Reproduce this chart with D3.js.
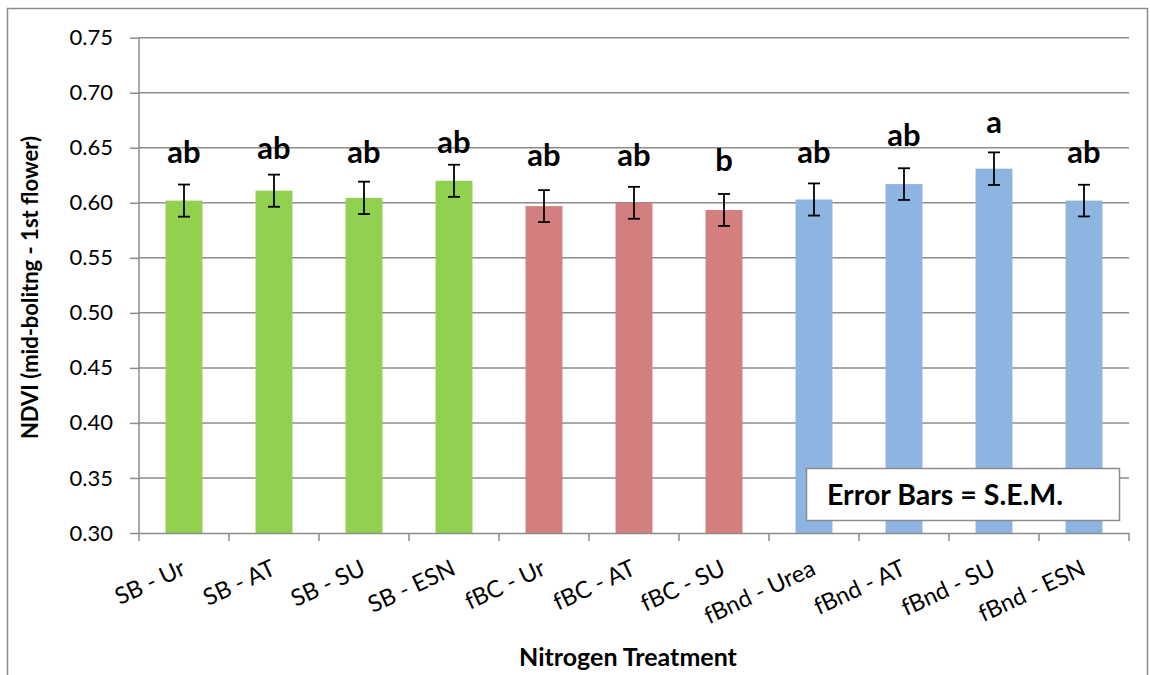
<!DOCTYPE html>
<html>
<head>
<meta charset="utf-8">
<script src="https://cdn.jsdelivr.net/npm/d3@7"></script>
<style>
  body { margin: 0; background: #fff; }
  text { font-family: Lato, "Open Sans", sans-serif; }
</style>
</head>
<body>
<div id="chart"></div>
<script>
// data
var categories = ["SB - Ur", "SB - AT", "SB - SU", "SB - ESN", "fBC - Ur", "fBC - AT", "fBC - SU",
                  "fBnd - Urea", "fBnd - AT", "fBnd - SU", "fBnd - ESN"];
var groups = ["SB", "SB", "SB", "SB", "fBC", "fBC", "fBC", "fBnd", "fBnd", "fBnd", "fBnd"];
var means = [0.602, 0.611, 0.6045, 0.620, 0.597, 0.600, 0.5935, 0.603, 0.617, 0.631, 0.602];
var sems = [0.0146, 0.0146, 0.0147, 0.0146, 0.0145, 0.0145, 0.0145, 0.0146, 0.0144, 0.0148, 0.0144];
var letters = ["ab", "ab", "ab", "ab", "ab", "ab", "b", "ab", "ab", "a", "ab"];
var letterAt = [0.6364, 0.640, 0.6364, 0.6455, 0.633, 0.633, 0.6285, 0.6366, 0.6512, 0.6636, 0.6361];
var yTicks = [0.30, 0.35, 0.40, 0.45, 0.50, 0.55, 0.60, 0.65, 0.70, 0.75];

var svgWidth = 1150;
var svgHeight = 675;

var margin = { top: 37.7, right: 21, bottom: 142, left: 139 };
var width = svgWidth - margin.left - margin.right;
var height = svgHeight - margin.top - margin.bottom;

var svg = d3.select("#chart")
    .append("svg")
    .attr("width", svgWidth)
    .attr("height", svgHeight);

// outer chart border
svg.append("rect")
    .attr("x", 7.5).attr("y", 8.5)
    .attr("width", 1140).attr("height", 700)
    .attr("fill", "none")
    .attr("stroke", "#8c8c8c")
    .attr("stroke-width", 1.5);

var chartGroup = svg.append("g")
    .attr("transform", `translate(${margin.left}, ${margin.top})`);

var xScale = d3.scaleBand()
    .domain(categories)
    .range([0, width])
    .paddingInner(0.59)
    .paddingOuter(0.295);

var xBand = d3.scaleBand()
    .domain(categories)
    .range([0, width]);

var yScale = d3.scaleLinear()
    .domain([0.30, 0.75])
    .range([height, 0]);

var color = d3.scaleOrdinal()
    .domain(["SB", "fBC", "fBnd"])
    .range(["#92d050", "#d47f7f", "#8eb4e2"]);

// gridlines
chartGroup.append("g")
    .selectAll("line")
    .data(yTicks.slice(1))
    .enter()
    .append("line")
    .attr("x1", 0)
    .attr("x2", width)
    .attr("y1", d => yScale(d))
    .attr("y2", d => yScale(d))
    .attr("stroke", "#8c8c8c")
    .attr("stroke-width", 1.5);

// y axis
var leftAxis = d3.axisLeft(yScale)
    .tickValues(yTicks)
    .tickFormat(d3.format(".2f"))
    .tickSize(9)
    .tickPadding(17);

var yAxisG = chartGroup.append("g").call(leftAxis);
yAxisG.select(".domain").attr("stroke", "#8c8c8c").attr("stroke-width", 1.5)
    .attr("d", `M0,${height}V0`);
yAxisG.selectAll(".tick line").attr("stroke", "#8c8c8c").attr("stroke-width", 1.5);
yAxisG.selectAll(".tick text")
    .attr("font-size", "22px")
    .attr("font-family", "Lato, sans-serif")
    .attr("fill", "#000");

// bars
chartGroup.selectAll(".bar")
    .data(means)
    .enter()
    .append("rect")
    .attr("class", "bar")
    .attr("x", (d, i) => xScale(categories[i]))
    .attr("y", d => yScale(d))
    .attr("width", xScale.bandwidth())
    .attr("height", d => height - yScale(d))
    .attr("fill", (d, i) => color(groups[i]));

// error bars
var errG = chartGroup.selectAll(".err")
    .data(means)
    .enter()
    .append("g")
    .attr("class", "err")
    .attr("transform", (d, i) => `translate(${xScale(categories[i]) + xScale.bandwidth() / 2},0)`);

errG.append("line")
    .attr("x1", 0).attr("x2", 0)
    .attr("y1", (d, i) => yScale(d + sems[i]))
    .attr("y2", (d, i) => yScale(d - sems[i]))
    .attr("stroke", "#000").attr("stroke-width", 1.8);

errG.append("line")
    .attr("x1", -6).attr("x2", 6)
    .attr("y1", (d, i) => yScale(d + sems[i]))
    .attr("y2", (d, i) => yScale(d + sems[i]))
    .attr("stroke", "#000").attr("stroke-width", 1.8);

errG.append("line")
    .attr("x1", -6).attr("x2", 6)
    .attr("y1", (d, i) => yScale(d - sems[i]))
    .attr("y2", (d, i) => yScale(d - sems[i]))
    .attr("stroke", "#000").attr("stroke-width", 1.8);

// significance letters
chartGroup.selectAll(".letter")
    .data(letters)
    .enter()
    .append("text")
    .attr("class", "letter")
    .attr("x", (d, i) => xScale(categories[i]) + xScale.bandwidth() / 2)
    .attr("y", (d, i) => yScale(letterAt[i]))
    .attr("text-anchor", "middle")
    .attr("font-size", "31px")
    .attr("font-weight", "bold")
    .attr("fill", "#000")
    .text(d => d);

// x axis
var bottomAxis = d3.axisBottom(xBand).tickSize(0).tickFormat("");
var xAxisG = chartGroup.append("g")
    .attr("transform", `translate(0, ${height})`)
    .call(bottomAxis);
xAxisG.select(".domain").attr("stroke", "#8c8c8c").attr("stroke-width", 1.5);

// tick marks at band edges
xAxisG.selectAll(".edge")
    .data(d3.range(categories.length + 1))
    .enter()
    .append("line")
    .attr("x1", d => d * xBand.step())
    .attr("x2", d => d * xBand.step())
    .attr("y1", 0)
    .attr("y2", 8)
    .attr("stroke", "#8c8c8c")
    .attr("stroke-width", 1.5);

// rotated category labels
chartGroup.selectAll(".xlabel")
    .data(categories)
    .enter()
    .append("text")
    .attr("class", "xlabel")
    .attr("text-anchor", "end")
    .attr("font-size", "23.5px")
    .attr("fill", "#000")
    .attr("transform", d => `translate(${xBand(d) + xBand.bandwidth() / 2 + 3}, ${height + 41}) rotate(-25)`)
    .text(d => d);

// axis titles
chartGroup.append("text")
    .attr("transform", "rotate(-90)")
    .attr("x", 0 - (yScale(0.523)))
    .attr("y", 0 - margin.left + 38)
    .attr("text-anchor", "middle")
    .attr("font-size", "22px")
    .attr("font-weight", "bold")
    .text("NDVI (mid-bolitng - 1st flower)");

chartGroup.append("text")
    .attr("transform", `translate(${width / 2 - 6}, ${height + 133})`)
    .attr("text-anchor", "middle")
    .attr("font-size", "25px")
    .attr("font-weight", "bold")
    .text("Nitrogen Treatment");

// note box
svg.append("rect")
    .attr("x", 806.5).attr("y", 468.5)
    .attr("width", 313).attr("height", 52)
    .attr("fill", "#fff")
    .attr("stroke", "#8c8c8c")
    .attr("stroke-width", 1.5);

svg.append("text")
    .attr("x", 827)
    .attr("y", 505)
    .attr("font-size", "28.5px")
    .attr("font-weight", "bold")
    .text("Error Bars = S.E.M.");
</script>
</body>
</html>
